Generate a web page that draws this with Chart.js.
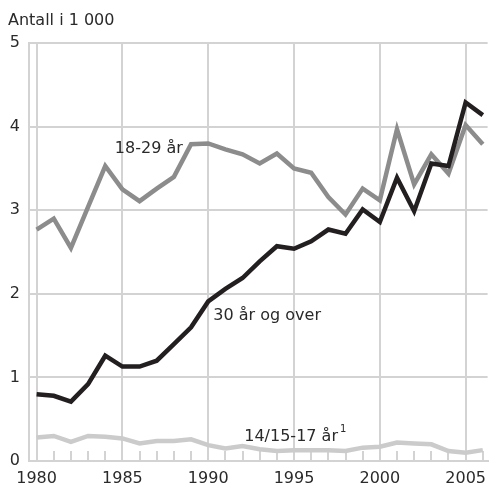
<!DOCTYPE html>
<html>
<head>
<meta charset="utf-8">
<script src="https://cdn.jsdelivr.net/npm/chart.js@4"></script>
<style>
html,body{margin:0;padding:0;background:#fff;}
#wrap{width:494px;height:485px;position:relative;}
</style>
</head>
<body>
<div id="wrap"><canvas id="c"></canvas></div>
<script>
const years = [1980,1981,1982,1983,1984,1985,1986,1987,1988,1989,1990,1991,1992,1993,1994,1995,1996,1997,1998,1999,2000,2001,2002,2003,2004,2005,2006];
const age30plus = [0.80,0.78,0.71,0.92,1.26,1.13,1.13,1.20,1.40,1.60,1.91,2.06,2.19,2.39,2.57,2.54,2.63,2.77,2.72,3.01,2.86,3.39,2.99,3.56,3.53,4.29,4.14];
const age18to29 = [2.77,2.90,2.55,3.04,3.53,3.25,3.11,3.26,3.40,3.79,3.80,3.73,3.67,3.56,3.68,3.50,3.45,3.16,2.95,3.26,3.12,3.97,3.31,3.67,3.44,4.02,3.79];
const age14to17 = [0.28,0.30,0.23,0.30,0.29,0.27,0.21,0.24,0.24,0.26,0.19,0.15,0.18,0.14,0.12,0.13,0.13,0.13,0.12,0.16,0.17,0.22,0.21,0.20,0.12,0.10,0.13];
const xTickLabels = [1980,1985,1990,1995,2000,2005];
const yTickLabels = [0,1,2,3,4,5];
const seriesNames = ['30 år og over','18-29 år','14/15-17 år'];

const FONT = "'DejaVu Sans', sans-serif";
const GRID = '#d3d3d3';
const TXT = '#2a2a2a';

const pts = arr => years.map((yr,i)=>({x:yr,y:arr[i]}));

const labelPlugin = {
  id:'seriesLabels',
  afterDatasetsDraw(chart, args, opts){
    const {ctx, scales:{x,y}} = chart;
    ctx.save();
    ctx.fillStyle = TXT;
    ctx.textBaseline = 'alphabetic';
    ctx.textAlign = 'left';
    opts.items.forEach(it=>{
      const px = x.getPixelForValue(it.x), py = y.getPixelForValue(it.y);
      ctx.font = "16px " + FONT;
      ctx.fillText(it.text, px, py);
      if (it.sup){
        const w = ctx.measureText(it.text).width;
        ctx.font = "10px " + FONT;
        ctx.fillText(it.sup, px + w + 2, py - 9);
      }
    });
    ctx.restore();
  }
};

const minorTicks = {
  id:'minorTicks',
  beforeDatasetsDraw(chart){
    const {ctx, scales:{x}, chartArea} = chart;
    ctx.save();
    ctx.strokeStyle = GRID;
    ctx.lineWidth = 2;
    years.forEach(yr=>{
      const px = Math.round(x.getPixelForValue(yr));
      ctx.beginPath();
      ctx.moveTo(px, chartArea.bottom);
      ctx.lineTo(px, chartArea.bottom - 10);
      ctx.stroke();
    });
    ctx.restore();
  }
};

new Chart(document.getElementById('c'), {
  type:'line',
  data:{
    datasets:[
      {label:seriesNames[0], data:pts(age30plus), borderColor:'#231f20', borderWidth:4.5},
      {label:seriesNames[1], data:pts(age18to29), borderColor:'#8c8c8c', borderWidth:4.5},
      {label:seriesNames[2], data:pts(age14to17), borderColor:'#cbcbcb', borderWidth:4.5}
    ]
  },
  options:{
    responsive:true,
    maintainAspectRatio:false,
    animation:false,
    elements:{point:{radius:0}, line:{tension:0, borderJoinStyle:'miter', borderCapStyle:'butt'}},
    layout:{padding:{left:8,right:0,top:0,bottom:0}},
    plugins:{
      legend:{display:false},
      tooltip:{enabled:false},
      title:{display:true, text:'Antall i 1 000', align:'start', color:TXT,
        font:{family:FONT, size:16, weight:'normal'}, padding:{top:11,bottom:13}},
      seriesLabels:{items:[
        {text:'18-29 år', x:1984.56, y:3.69},
        {text:'30 år og over', x:1990.3, y:1.686},
        {text:'14/15-17 år', sup:'1', x:1992.1, y:0.237}
      ]}
    },
    scales:{
      x:{
        type:'linear', min:1979.557, max:2006.28,
        afterBuildTicks: s => { s.ticks = xTickLabels.map(v=>({value:v})); },
        afterFit: s => { s.height = 24; },
        grid:{color:GRID, lineWidth:2, drawTicks:false},
        border:{display:true, color:GRID, width:2},
        ticks:{color:TXT, font:{family:FONT, size:16}, padding:8, maxRotation:0, autoSkip:false,
          callback: v => String(v)}
      },
      y:{
        min:0, max:5,
        afterBuildTicks: s => { s.ticks = yTickLabels.map(v=>({value:v})); },
        afterFit: s => { s.width = 21; },
        grid:{color:GRID, lineWidth:2, drawTicks:false},
        border:{display:true, color:GRID, width:2},
        ticks:{color:TXT, font:{family:FONT, size:16}, padding:9, callback: v => String(v)}
      }
    }
  },
  plugins:[minorTicks, labelPlugin]
});
</script>
</body>
</html>
